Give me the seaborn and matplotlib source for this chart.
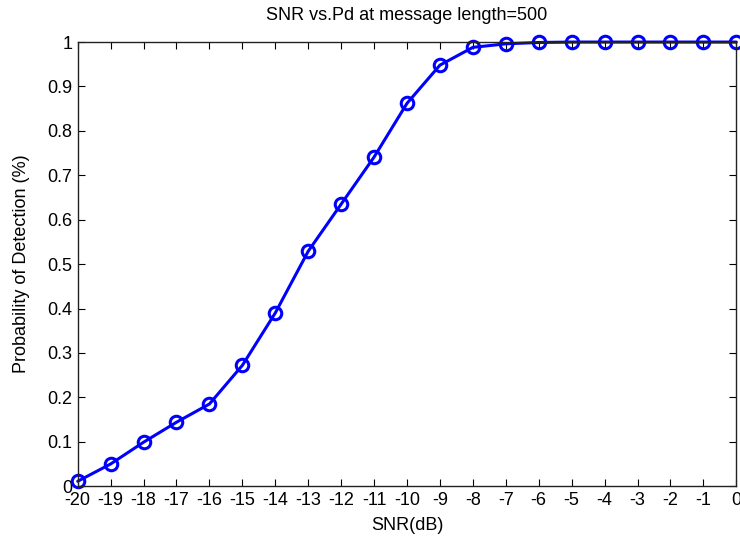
import matplotlib
matplotlib.use("Agg")
import matplotlib.pyplot as plt
import seaborn as sns
import pandas as pd

snr_db = [-20, -19, -18, -17, -16, -15, -14, -13, -12, -11, -10, -9, -8, -7, -6, -5, -4, -3, -2, -1, 0]
pd_values = [0.011, 0.050, 0.099, 0.144, 0.185, 0.272, 0.390, 0.529, 0.635, 0.741, 0.862, 0.948,
             0.988, 0.996, 0.999, 1.0, 1.0, 1.0, 1.0, 1.0, 1.0]
y_ticks = [0, 0.1, 0.2, 0.3, 0.4, 0.5, 0.6, 0.7, 0.8, 0.9, 1]
y_tick_labels = ["0", "0.1", "0.2", "0.3", "0.4", "0.5", "0.6", "0.7", "0.8", "0.9", "1"]

sns.set_style("white")
plt.rcParams['font.family'] = ['Liberation Sans', 'DejaVu Sans']
plt.rcParams['text.color'] = 'black'
plt.rcParams['axes.labelcolor'] = 'black'

df = pd.DataFrame({"snr": snr_db, "pd": pd_values})

fig = plt.figure(figsize=(7.4, 5.39), dpi=100)
ax = fig.add_axes([0.105, 0.098, 0.89, 0.824])
sns.lineplot(data=df, x="snr", y="pd", ax=ax, color="#0000ff", linewidth=2.2,
             marker="o", markersize=9, markerfacecolor="none", markeredgecolor="#0000ff",
             markeredgewidth=2.2, clip_on=False)
ax.set_xlim(-20, 0)
ax.set_ylim(0, 1)
ax.set_xticks(snr_db)
ax.set_xticklabels([str(v) for v in snr_db])
ax.set_yticks(y_ticks)
ax.set_yticklabels(y_tick_labels)
ax.tick_params(direction="in", length=5, width=0.8, labelsize=13, colors="#000000",
               top=True, right=True, bottom=True, left=True, pad=4)
for s in ax.spines.values():
    s.set_color("#222222")
    s.set_linewidth(1.0)
ax.set_xlabel("SNR(dB)", fontsize=13, labelpad=6, color="black")
ax.set_ylabel("Probability of Detection (%)", fontsize=13, labelpad=12, color="black")
ax.set_title("SNR vs.Pd at message length=500", fontsize=13, pad=16, color="black")
fig.savefig("out.png", dpi=100)
